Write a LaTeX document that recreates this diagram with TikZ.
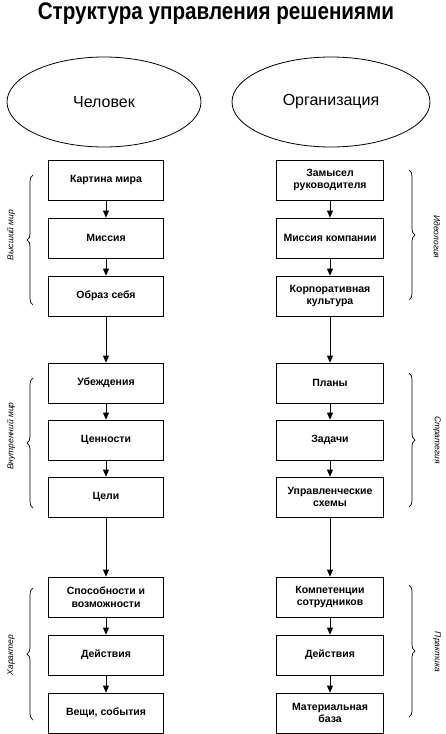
\documentclass[tikz,border=0pt]{standalone}
\usepackage{fontspec}
\setmainfont{Liberation Sans}
\usetikzlibrary{arrows.meta,decorations.pathreplacing,shapes.geometric}
\begin{document}
\begin{tikzpicture}[x=1pt,y=-1pt,
 box/.style={draw,line width=0.8pt,minimum width=115pt,minimum height=40pt,align=center,font=\fontsize{10.5}{12.5}\selectfont\bfseries,inner sep=1pt},
 rbox/.style={box,minimum width=107pt},
 oval/.style={draw,ellipse,inner sep=0pt,minimum width=194pt,minimum height=90pt,font=\fontsize{16}{19}\selectfont,line width=0.8pt},
 arr/.style={-{Triangle[length=7pt,width=6pt]},line width=0.8pt},
 brc/.style={decorate,decoration={brace,amplitude=6pt},line width=0.7pt},
 lab/.style={font=\fontsize{8.5}{10}\selectfont\itshape}]
\useasboundingbox (0,0) rectangle (446,734);
\node[font=\fontsize{24}{26}\selectfont\bfseries] (title) at (216,14) {\scalebox{0.86}[1]{Структура управления решениями}};
\node[oval] (man) at (104,102) {Человек};
\node[oval,minimum width=198pt] (org) at (331,102) {Организация};
% left column
\node[box] (l1) at (106,180) {Картина мира};
\node[box] (l2) at (106,238) {Миссия};
\node[box] (l3) at (106,296) {Образ себя};
\node[box] (l4) at (106,383) {Убеждения};
\node[box] (l5) at (106,440) {Ценности};
\node[box] (l6) at (106,497) {Цели};
\node[box] (l7) at (106,597) {Способности и\\возможности};
\node[box] (l8) at (106,655) {Действия};
\node[box] (l9) at (106,713) {Вещи, события};
% right column
\node[rbox] (r1) at (330,180) {Замысел\\руководителя};
\node[rbox] (r2) at (330,238) {Миссия компании};
\node[rbox] (r3) at (330,296) {Корпоративная\\культура};
\node[rbox] (r4) at (330,383) {Планы};
\node[rbox] (r5) at (330,440) {Задачи};
\node[rbox] (r6) at (330,497) {Управленческие\\схемы};
\node[rbox] (r7) at (330,597) {Компетенции\\сотрудников};
\node[rbox] (r8) at (330,655) {Действия};
\node[rbox] (r9) at (330,713) {Материальная\\база};
% arrows
\foreach \a/\b in {l1/l2,l2/l3,l3/l4,l4/l5,l5/l6,l6/l7,l7/l8,l8/l9,r1/r2,r2/r3,r3/r4,r4/r5,r5/r6,r6/r7,r7/r8,r8/r9}
  \draw[arr] (\a.south) -- (\b.north);
% braces
\coordinate (lb1t) at (33,175); \coordinate (lb1b) at (33,305);
\coordinate (lb2t) at (33,378); \coordinate (lb2b) at (33,508);
\coordinate (lb3t) at (33,588); \coordinate (lb3b) at (33,720);
\coordinate (rb1t) at (409,170); \coordinate (rb1b) at (409,300);
\coordinate (rb2t) at (409,373); \coordinate (rb2b) at (409,507);
\coordinate (rb3t) at (409,585); \coordinate (rb3b) at (409,717);
\draw[brc] (lb1b) -- (lb1t);
\draw[brc] (lb2b) -- (lb2t);
\draw[brc] (lb3b) -- (lb3t);
\draw[brc] (rb1t) -- (rb1b);
\draw[brc] (rb2t) -- (rb2b);
\draw[brc] (rb3t) -- (rb3b);
\node[lab,rotate=90] (t1) at (11,235) {Высший мир};
\node[lab,rotate=90] (t2) at (11,436) {Внутренний мир};
\node[lab,rotate=90] (t3) at (11,655) {Характер};
\node[lab,rotate=-90] (t4) at (437,237) {Идеология};
\node[lab,rotate=-90] (t5) at (437,440) {Стратегия};
\node[lab,rotate=-90] (t6) at (437,652) {Практика};
\end{tikzpicture}
\end{document}
